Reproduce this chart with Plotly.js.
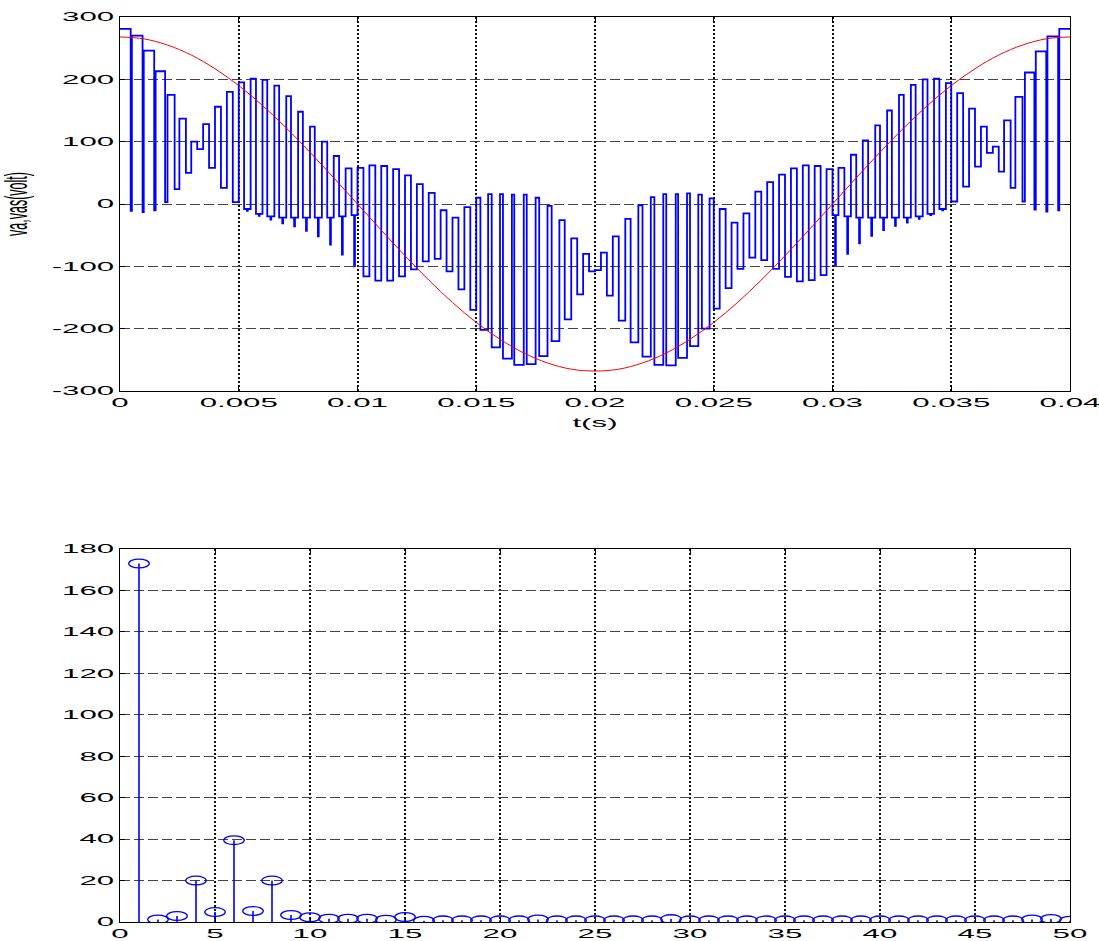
<!DOCTYPE html>
<html>
<head>
<meta charset="utf-8">
<script src="https://cdn.plot.ly/plotly-3.0.1.min.js"></script>
<style>
  html, body { margin: 0; padding: 0; background: #ffffff; }
  #chart { width: 1099px; height: 941px; }
</style>
</head>
<body>
<div id="chart"></div>
<script>
// ---------------- data ----------------
// switching period of the blue waveform (s)
const switchPeriod = 0.0005;

// upper level reached in each switching period (V)
const hiLevel = [
  281, 270, 246, 213, 175, 137, 100, 128, 156, 180,
  195, 201, 199, 190, 173, 148, 124, 100, 77, 57,
  58, 62, 61, 56, 46, 32, 18, -10, -22, -5,
  10, 16, 16, 15, 15, 10, -3, -26, -55, -80,
  -78, -52, -24, -2, 11, 16, 16, 17, 15, 9,
  -8, -30, -15, 20, 35, 47, 57, 62, 61, 56,
  58, 79, 102, 126, 150, 175, 191, 200, 201, 194,
  178, 153, 124, 92, 134, 172, 211, 245, 269, 281
];

// intermediate level held after the upper level (V)
const midLevel = [
  -11, -13, -10, 3, 24, 50, 88, 58, 26, 3,
  -8, -16, -20, -22, -22, -22, -22, -22, -20, -18,
  -116, -123, -123, -116, -105, -92, -88, -108, -137, -170,
  -202, -230, -248, -258, -257, -244, -220, -185, -145, -108,
  -106, -147, -187, -222, -245, -258, -259, -247, -228, -200,
  -168, -135, -104, -86, -90, -104, -117, -124, -122, -114,
  -18, -20, -22, -22, -22, -22, -22, -20, -16, -8,
  4, 28, 60, 82, 52, 26, 4, -9, -12, -10
];

// lowest level reached in each switching period (V)
const loLevel = [
  -11, -13, -10, 3, 24, 50, 88, 58, 26, 3,
  -11, -19, -25, -31, -36, -43, -52, -65, -81, -100,
  -116, -123, -123, -116, -105, -92, -88, -108, -137, -170,
  -202, -230, -248, -258, -257, -244, -220, -185, -145, -108,
  -106, -147, -187, -222, -245, -258, -259, -247, -228, -200,
  -168, -135, -104, -86, -90, -104, -117, -124, -122, -114,
  -98, -80, -63, -51, -42, -35, -30, -24, -18, -10,
  4, 28, 60, 82, 52, 26, 4, -9, -12, -10
];

// fraction of each period spent on the upper level
const hiDuty = [
  0.9, 0.9, 0.88, 0.8, 0.6, 0.55, 0.5, 0.5, 0.5, 0.5,
  0.45, 0.45, 0.4, 0.4, 0.4, 0.4, 0.4, 0.45, 0.45, 0.5,
  0.5, 0.5, 0.5, 0.5, 0.5, 0.5, 0.5, 0.5, 0.5, 0.5,
  0.35, 0.3, 0.25, 0.2, 0.25, 0.3, 0.35, 0.45, 0.5, 0.5,
  0.5, 0.5, 0.45, 0.35, 0.3, 0.25, 0.2, 0.25, 0.3, 0.35,
  0.5, 0.5, 0.5, 0.5, 0.5, 0.5, 0.5, 0.5, 0.5, 0.5,
  0.5, 0.45, 0.45, 0.4, 0.4, 0.4, 0.4, 0.4, 0.45, 0.45,
  0.5, 0.5, 0.5, 0.5, 0.55, 0.6, 0.8, 0.88, 0.9, 0.9
];
// width of the short dip to the lowest level, as a fraction of the period
const dipWidth = 0.07;

// red reference voltage (s, V)
const refTime = [
  0, 0.001, 0.002, 0.003, 0.004, 0.005, 0.006, 0.007, 0.008, 0.009,
  0.010, 0.011, 0.012, 0.013, 0.014, 0.015, 0.016, 0.017, 0.018, 0.019,
  0.020, 0.021, 0.022, 0.023, 0.024, 0.025, 0.026, 0.027, 0.028, 0.029,
  0.030, 0.031, 0.032, 0.033, 0.034, 0.035, 0.036, 0.037, 0.038, 0.039, 0.040
];
const refVolt = [
  268, 265, 255, 239, 217, 190, 158, 122, 83, 42,
  0, -42, -83, -122, -158, -190, -217, -239, -255, -265,
  -268, -265, -255, -239, -217, -190, -158, -122, -83, -42,
  0, 42, 83, 122, 158, 190, 217, 239, 255, 265, 268
];

// harmonic spectrum
const harmonicOrder = [
  1, 2, 3, 4, 5, 6, 7, 8, 9, 10,
  11, 12, 13, 14, 15, 16, 17, 18, 19, 20,
  21, 22, 23, 24, 25, 26, 27, 28, 29, 30,
  31, 32, 33, 34, 35, 36, 37, 38, 39, 40,
  41, 42, 43, 44, 45, 46, 47, 48, 49, 50
];
const harmonicAmp = [
  173, 1.2, 2.9, 20, 4.8, 39.5, 5.3, 20, 3.4, 2.3,
  1.6, 1.6, 1.6, 1.1, 2.4, 0.6, 0.8, 0.8, 0.8, 0.8,
  0.8, 1.2, 0.8, 0.8, 0.8, 0.8, 0.8, 0.8, 1.4, 0.8,
  0.8, 0.8, 0.8, 0.8, 0.8, 0.8, 0.8, 0.8, 0.8, 0.8,
  0.8, 0.8, 0.8, 0.8, 0.8, 0.8, 0.8, 1.2, 1.5, 0.6
];

// tick labels
const timeTickVals = [0, 0.005, 0.01, 0.015, 0.02, 0.025, 0.03, 0.035, 0.04];
const timeTickText = ['0', '0.005', '0.01', '0.015', '0.02', '0.025', '0.03', '0.035', '0.04'];
const voltTickVals = [-300, -200, -100, 0, 100, 200, 300];
const voltTickText = ['-300', '-200', '-100', '0', '100', '200', '300'];
const orderTickVals = [0, 5, 10, 15, 20, 25, 30, 35, 40, 45, 50];
const orderTickText = ['0', '5', '10', '15', '20', '25', '30', '35', '40', '45', '50'];
const ampTickVals = [0, 20, 40, 60, 80, 100, 120, 140, 160, 180];
const ampTickText = ['0', '20', '40', '60', '80', '100', '120', '140', '160', '180'];

// ---------------- build traces ----------------
const half = hiLevel.length / 2;
const pwmX = [], pwmY = [];
function hold(t0, t1, v) { pwmX.push(t0, t1); pwmY.push(v, v); }
for (let k = 0; k < hiLevel.length; k++) {
  const T = switchPeriod;
  const t0 = k * T, t1 = t0 + T;
  const d = hiDuty[k];
  const hasDip = midLevel[k] !== loLevel[k];
  if (k < half) {
    const tc = t0 + d * T;
    hold(t0, tc, hiLevel[k]);
    if (hasDip) {
      const tm = (tc + t1) / 2;
      hold(tc, tm - dipWidth * T / 2, midLevel[k]);
      hold(tm - dipWidth * T / 2, tm + dipWidth * T / 2, loLevel[k]);
      hold(tm + dipWidth * T / 2, t1, midLevel[k]);
    } else {
      hold(tc, t1, loLevel[k]);
    }
  } else {
    const tc = t0 + (1 - d) * T;
    if (hasDip) {
      const tm = (t0 + tc) / 2;
      hold(t0, tm - dipWidth * T / 2, midLevel[k]);
      hold(tm - dipWidth * T / 2, tm + dipWidth * T / 2, loLevel[k]);
      hold(tm + dipWidth * T / 2, tc, midLevel[k]);
    } else {
      hold(t0, tc, loLevel[k]);
    }
    hold(tc, t1, hiLevel[k]);
  }
}

const stemX = [], stemY = [];
harmonicOrder.forEach((n, i) => { stemX.push(n, n, null); stemY.push(0, harmonicAmp[i], null); });

const markerShapes = harmonicOrder.map((n, i) => ({
  type: 'circle', xref: 'x2', yref: 'y2',
  x0: n - 0.54, x1: n + 0.54,
  y0: harmonicAmp[i] - 2.1, y1: harmonicAmp[i] + 2.1,
  line: { color: '#0000ff', width: 1.3 }, fillcolor: 'rgba(0,0,0,0)', layer: 'above'
}));

const traces = [
  { x: pwmX, y: pwmY, type: 'scatter', mode: 'lines', xaxis: 'x', yaxis: 'y',
    line: { color: '#0000ff', width: 1.8 }, hoverinfo: 'skip', name: 'va' },
  { x: refTime, y: refVolt, type: 'scatter', mode: 'lines', xaxis: 'x', yaxis: 'y',
    line: { color: '#ff0000', width: 1, shape: 'spline' }, hoverinfo: 'skip', name: 'vas' },
  { x: stemX, y: stemY, type: 'scatter', mode: 'lines', xaxis: 'x2', yaxis: 'y2',
    line: { color: '#0000ff', width: 1.6 }, hoverinfo: 'skip', name: 'spectrum' }
];

const W = 1099, H = 941;
const xDom = [120 / W, 1070 / W];
const baseAxis = {
  showline: true, linecolor: '#000', linewidth: 1.2, mirror: 'ticks',
  ticks: 'inside', ticklen: 5, tickcolor: '#000', tickwidth: 1,
  zeroline: false, showgrid: true, automargin: false,
  tickfont: { family: 'Liberation Sans, Arial, sans-serif', size: 12.5, color: '#000' }
};
const xGrid = { gridcolor: '#111', gridwidth: 2, griddash: '2px,2px' };
const yGrid = { gridcolor: '#444', gridwidth: 1, griddash: '10px,4px', ticklabelstandoff: 2 };

const layout = {
  width: W, height: H,
  margin: { l: 0, r: 0, t: 0, b: 0 },
  paper_bgcolor: '#fff', plot_bgcolor: '#fff',
  showlegend: false,
  font: { family: 'Liberation Sans, Arial, sans-serif', size: 12.5, color: '#000' },
  xaxis: Object.assign({}, baseAxis, xGrid, {
    domain: xDom, anchor: 'y', range: [0, 0.04],
    tickmode: 'array', tickvals: timeTickVals, ticktext: timeTickText,
    title: { text: 't(s)', standoff: 9, font: { size: 12.5 } }
  }),
  yaxis: Object.assign({}, baseAxis, yGrid, {
    domain: [1 - 391 / H, 1 - 17 / H], anchor: 'x', range: [-300, 300],
    tickmode: 'array', tickvals: voltTickVals, ticktext: voltTickText,
    title: { text: 'va,vas(volt)', standoff: 64, font: { size: 12.5 } }
  }),
  xaxis2: Object.assign({}, baseAxis, xGrid, {
    domain: xDom, anchor: 'y2', range: [0, 50],
    tickmode: 'array', tickvals: orderTickVals, ticktext: orderTickText
  }),
  yaxis2: Object.assign({}, baseAxis, yGrid, {
    domain: [1 - 922 / H, 1 - 549 / H], anchor: 'x2', range: [0, 180],
    tickmode: 'array', tickvals: ampTickVals, ticktext: ampTickText
  }),
  shapes: markerShapes
};

function stretchText(gd) {
  const s = 2.5;
  gd.querySelectorAll('.xtick text, .x2tick text, .xtitle').forEach(t => {
    const bb = t.getBBox(); const cx = bb.x + bb.width / 2;
    const tr = t.getAttribute('transform') || '';
    t.setAttribute('transform', tr + ' translate(' + cx + ',0) scale(' + s + ',1) translate(' + (-cx) + ',0)');
  });
  gd.querySelectorAll('.ytick text, .y2tick text').forEach(t => {
    const bb = t.getBBox(); const cx = bb.x + bb.width;
    const tr = t.getAttribute('transform') || '';
    t.setAttribute('transform', tr + ' translate(' + cx + ',0) scale(' + s + ',1) translate(' + (-cx) + ',0)');
  });
  gd.querySelectorAll('.ytitle').forEach(t => {
    const bb = t.getBBox(); const cy = bb.y + bb.height / 2;
    const tr = t.getAttribute('transform') || '';
    t.setAttribute('transform', tr + ' translate(0,' + cy + ') scale(1,' + s + ') translate(0,' + (-cy) + ')');
  });
}

Plotly.newPlot('chart', traces, layout, { staticPlot: true, displayModeBar: false })
  .then(gd => stretchText(gd));
</script>
</body>
</html>
